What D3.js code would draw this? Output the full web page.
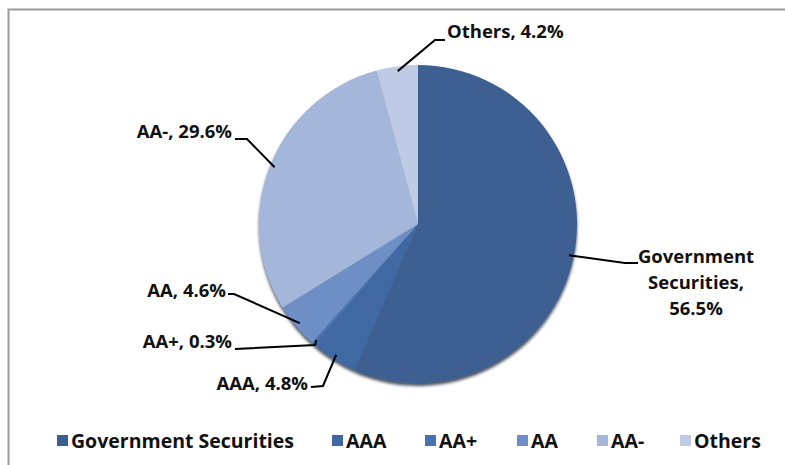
<!DOCTYPE html>
<html>
<head>
<meta charset="utf-8">
<script src="https://cdn.jsdelivr.net/npm/d3@7"></script>
<style>
  body { margin: 0; background: #fff; }
  text { font-family: "Open Sans", "Liberation Sans", sans-serif; font-weight: bold; fill: #111; }
</style>
</head>
<body>
<svg class="chart"></svg>
<script>
const categories = ["Government Securities", "AAA", "AA+", "AA", "AA-", "Others"];
const values = [56.5, 4.8, 0.3, 4.6, 29.6, 4.2];
const colors = ["#3c5f92", "#3f67a3", "#4873b0", "#6d8fc6", "#a4b7db", "#bfcbe5"];

const
  width = 785,
  height = 465,
  cx = 418,
  cy = 224,
  radius = 159;

// label layout: elbow point, line end, text position
const labelLayout = [
  {elbow: [625, 263], end: [638, 263], tx: 696, ty: 263, anchor: "middle",
   lines: ["Government", "Securities,", "56.5%"]},
  {elbow: [323, 386], end: [311, 387], tx: 308, ty: 390, anchor: "end", lines: ["AAA, 4.8%"]},
  {elbow: [315, 345], end: [235, 349], tx: 232, ty: 348, anchor: "end", lines: ["AA+, 0.3%"]},
  {elbow: [234, 294], end: [228, 294], tx: 226, ty: 297, anchor: "end", lines: ["AA, 4.6%"]},
  {elbow: [247, 139], end: [235, 139], tx: 232, ty: 138, anchor: "end", lines: ["AA-, 29.6%"]},
  {elbow: [435, 40], end: [445, 40], tx: 447, ty: 38, anchor: "start", lines: ["Others, 4.2%"]}
];
const legendX = [57, 332, 425, 517, 597, 680];

const svg = d3.select(".chart")
  .attr("width", width)
  .attr("height", height);

// chart frame
svg.append("rect")
  .attr("x", 8.5).attr("y", 9.5)
  .attr("width", 800).attr("height", 480)
  .attr("fill", "#fff")
  .attr("stroke", "#9a9a9a")
  .attr("stroke-width", 2);

const defs = svg.append("defs");
const shadow = defs.append("filter").attr("id", "shadow")
  .attr("x", "-10%").attr("y", "-10%").attr("width", "120%").attr("height", "120%");
shadow.append("feDropShadow")
  .attr("dx", 0).attr("dy", 3).attr("stdDeviation", 1.5)
  .attr("flood-color", "#0d1a2e").attr("flood-opacity", 0.75);

const pie = d3.pie().sort(null).value(d => d);
const arcs = pie(values);
const arc = d3.arc().innerRadius(0).outerRadius(radius);

const g = svg.append("g")
  .attr("transform", `translate(${cx},${cy})`);

g.append("g")
  .attr("filter", "url(#shadow)")
  .selectAll("path")
  .data(arcs)
  .enter()
  .append("path")
    .attr("d", arc)
    .attr("fill", (d, i) => colors[i]);

// leader lines and labels
const labels = svg.append("g");
arcs.forEach((d, i) => {
  const L = labelLayout[i];
  const mid = (d.startAngle + d.endAngle) / 2;
  const r = radius * 0.97;
  const p0 = [cx + r * Math.sin(mid), cy - r * Math.cos(mid)];
  labels.append("polyline")
    .attr("points", [p0, L.elbow, L.end].map(p => p.join(",")).join(" "))
    .attr("fill", "none")
    .attr("stroke", "#000")
    .attr("stroke-width", 2);
  const t = labels.append("text")
    .attr("x", L.tx)
    .attr("y", L.ty)
    .attr("text-anchor", L.anchor)
    .attr("font-size", 18.5);
  L.lines.forEach((line, k) => {
    t.append("tspan")
      .attr("x", L.tx)
      .attr("dy", k === 0 ? 0 : 26)
      .text(line);
  });
});

// legend
const legend = svg.append("g");
categories.forEach((c, i) => {
  legend.append("rect")
    .attr("x", legendX[i]).attr("y", 435)
    .attr("width", 11).attr("height", 11)
    .attr("fill", colors[i]);
  legend.append("text")
    .attr("x", legendX[i] + 14)
    .attr("y", 447.5)
    .attr("font-size", 19.5)
    .text(c);
});
</script>
</body>
</html>
